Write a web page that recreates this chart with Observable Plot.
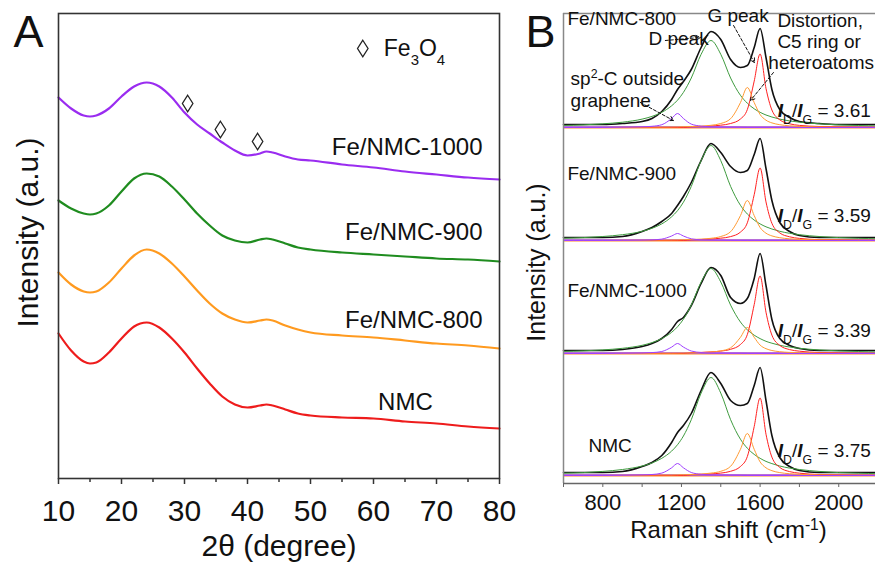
<!DOCTYPE html>
<html><head><meta charset="utf-8">
<script src="https://cdn.jsdelivr.net/npm/d3@7"></script>
<script src="https://cdn.jsdelivr.net/npm/@observablehq/plot@0.6"></script>
<style>
html,body{margin:0;padding:0;background:#fff;}
#wrap{position:relative;width:875px;height:564px;overflow:hidden;}
#a{position:absolute;left:0;top:0;}
#b{position:absolute;left:520px;top:0;}
svg{font-family:"Liberation Sans",Arial,sans-serif;}
</style></head><body><div id="wrap"><div id="a"></div><div id="b"></div></div>
<script>
// ---------- Panel A: XRD ----------
const twoTheta = [10,12,14,15,16,18,20,22,24,26,28,30,32,34,36,38,40,42,43,44,46,48,50,55,60,65,70,75,80];
const xrdNMC    = [145,128,117,115,116,126,140,152,156,151,140,126,110,95,82,74,71,73,74,73,69,65,63,61,60,57,55,52,50];
const xrd800    = [206,194,187,186,187,196,210,223,229,225,215,202,188,175,165,159,156,158,159,158,153,149,146,143,141,138,135,133,130];
const xrd900    = [278,270,265,264,265,273,287,300,305,302,292,279,265,253,243,238,236,239,240,239,235,231,229,226,224,222,220,219,217];
const xrd1000   = [381,370,363,362,363,370,382,392,396,392,381,366,354,345,336,328,323,325,327,326,322,319,318,314,311,307,304,301,299];
const xrdNames  = ["NMC","Fe/NMC-800","Fe/NMC-900","Fe/NMC-1000"];
const xrdColors = ["#ee1c1c","#ff9a1f","#1f8c1f","#9a2cf0"];
const labelTheta = [69.4, 77.3, 77.3, 77.3];
const labelInt   = [76, 158, 246, 331];
const fe3o4Theta = [30.5, 35.7, 41.6];
const fe3o4Int   = [375, 349, 337];
const legendTheta = [58.3];
const legendInt   = [430];
const ticksA = [10,20,30,40,50,60,70,80];
const minorA = [15,25,35,45,55,65,75];
const yTitleA = {x: 5.24, y: 246};

const seriesA = [xrdNMC, xrd800, xrd900, xrd1000];
const rowsA = seriesA.flatMap((s, i) => s.map((v, j) => ({x: twoTheta[j], y: v, name: xrdNames[i]})));

const diamond = {
  draw(ctx, size) {
    const s = Math.sqrt(size / Math.PI);
    const w = s * 1.05, h = s * 1.65;
    ctx.moveTo(0, -h); ctx.lineTo(w, 0); ctx.lineTo(0, h); ctx.lineTo(-w, 0); ctx.closePath();
  }
};

const plotA = Plot.plot({
  width: 520, height: 564,
  marginLeft: 58, marginRight: 21, marginTop: 13, marginBottom: 86,
  x: {domain: [10, 80]},
  y: {domain: [0, 465], axis: null},
  color: {domain: xrdNames, range: xrdColors},
  style: {fontFamily: "Liberation Sans, Arial, sans-serif", fontSize: "30px", color: "#111", background: "#fff"},
  marks: [
    Plot.line(rowsA, {x: "x", y: "y", z: "name", stroke: "name", strokeWidth: 2.2, curve: "monotone-x"}),
    Plot.frame({stroke: "#333", strokeWidth: 1.6}),
    Plot.axisX({ticks: ticksA, tickSize: 6, tickPadding: 15, label: null, stroke: "#333", strokeWidth: 1.5, fontSize: 30}),
    Plot.axisX({ticks: minorA, tickSize: 4, text: null, label: null, stroke: "#333", strokeWidth: 1.5}),
    Plot.dot(fe3o4Theta.map((t, i) => ({x: t, y: fe3o4Int[i]})), {x: "x", y: "y", symbol: diamond, r: 5, stroke: "#222", strokeWidth: 1.3, fill: "white"}),
    Plot.dot(legendTheta.map((t, i) => ({x: t, y: legendInt[i]})), {x: "x", y: "y", symbol: diamond, r: 5, stroke: "#222", strokeWidth: 1.3, fill: "white"}),
    Plot.text(["Fe_{3}O_{4}"], {x: legendTheta[0], y: legendInt[0], dx: 21, textAnchor: "start", fontSize: 23, fill: "#111"}),
    Plot.text(xrdNames.map((n, i) => ({n, x: labelTheta[i], y: labelInt[i]})), {x: "x", y: "y", text: "n", textAnchor: "end", fontSize: 24, fill: "#111"}),
    Plot.text(["2θ (degree)"], {frameAnchor: "bottom", dy: 77, fontSize: 30, fill: "#111"}),
    Plot.text(["Intensity (a.u.)"], {x: yTitleA.x, y: yTitleA.y, rotate: -90, fontSize: 30, fill: "#111"}),
    Plot.text(["A"], {frameAnchor: "top-left", dx: -45, dy: 2, fontSize: 45, fill: "#111"})
  ]
});

// ---------- Panel B: Raman ----------
const ramanShift = [600,700,800,900,1000,1050,1100,1150,1180,1210,1250,1300,1350,1400,1450,1500,1535,1570,1600,1630,1660,1700,1750,1800,1900,2000,2100,2200];
// Fe/NMC-800
const black800  = [3,3,3,4,6,9,16,28,38,46,58,80,96,88,68,60,62,80,99,70,38,18,10,6,4,3,3,3];
const green800  = [2.0,2.6,3.7,5.3,8.4,11.1,15.2,21.7,27.3,35.1,49.5,73.2,87,73.2,49.5,32.2,24.3,18.7,15.2,12.5,10.5,8.4,6.6,5.3,3.7,2.6,2.0,1.6];
const red800    = [0,0,0,0,0,0,0,0,0,0,0.7,1.0,1.5,2.3,4.0,8.5,17.9,46.4,73.5,39.1,17.5,7.7,3.7,2.1,1.0,0.6,0.3,0.2];
const orange800 = [0,0,0,0.2,0.3,0.4,0.4,0.5,0.6,0.8,1.0,1.4,2.2,4.0,8.8,24.9,40,24.9,13.0,7.3,4.6,2.8,1.7,1.1,0.6,0.4,0.2,0.2];
const purple800 = [0,0,0,0.3,0.7,1.2,2.8,9.0,14,9.0,3.4,1.4,0.7,0.4,0.3,0.2,0,0,0,0,0,0,0,0,0,0,0,0];
// Fe/NMC-900
const black900  = [3,3,3,4,9,13,19,27,35,44,58,80,97,88,74,68,70,86,102,72,40,18,9,5,3,3,3,3];
const green900  = [2.2,2.9,4.0,5.8,9.2,12.2,16.6,23.7,29.8,38.3,54.1,79.9,95,79.9,54.1,35.2,26.5,20.4,16.6,13.7,11.5,9.2,7.2,5.8,4.0,2.9,2.2,1.7];
const red900    = [0,0,0,0,0,0,0,0,0,0,0.7,1.0,1.5,2.3,3.9,8.4,17.7,45.8,72.5,38.6,17.2,7.6,3.7,2.1,0.9,0.6,0.3,0.2];
const orange900 = [0,0,0,0.2,0.3,0.4,0.4,0.5,0.6,0.8,1.0,1.4,2.2,4.0,8.8,24.9,40,24.9,13.0,7.3,4.6,2.8,1.7,1.1,0.6,0.4,0.2,0.2];
const purple900 = [0,0,0,0.1,0.3,0.6,1.4,4.5,7,4.5,1.7,0.7,0.4,0.2,0,0,0,0,0,0,0,0,0,0,0,0,0,0];
// Fe/NMC-1000
const black1000  = [3,3,3,4,7,10,15,24,32,36,48,70,86,78,56,50,55,75,100,68,34,15,8,5,3,3,3,3];
const green1000  = [2.0,2.6,3.6,5.2,8.2,10.9,14.9,21.2,26.7,34.3,48.4,71.5,85,71.5,48.4,31.5,23.7,18.3,14.9,12.2,10.3,8.2,6.5,5.2,3.6,2.6,2.0,1.5];
const red1000    = [0,0,0,0,0,0,0,0,0,0,0.8,1.1,1.6,2.4,4.2,9.0,18.9,48.9,77.5,41.3,18.4,8.1,3.9,2.3,1.0,0.6,0.3,0.2];
const orange1000 = [0,0,0,0.1,0.2,0.2,0.3,0.3,0.4,0.5,0.6,0.9,1.5,2.6,5.7,16.2,26,16.2,8.4,4.8,3.0,1.8,1.1,0.7,0.4,0.2,0.2,0.1];
const purple1000 = [0,0,0,0.2,0.5,0.9,2.0,6.4,10,6.4,2.5,1.0,0.5,0.3,0.2,0.2,0,0,0,0,0,0,0,0,0,0,0,0];
// NMC
const blackNMC  = [3,3,3,4,9,13,20,33,43,50,62,85,103,92,75,70,72,90,108,75,40,18,9,5,3,3,3,3];
const greenNMC  = [2.3,2.9,4.1,6.0,9.5,12.5,17.2,24.4,30.8,39.5,55.8,82.4,98,82.4,55.8,36.3,27.3,21.1,17.2,14.1,11.9,9.5,7.4,6.0,4.1,2.9,2.3,1.8];
const redNMC    = [0,0,0,0,0,0,0,0,0,0,0.8,1.1,1.6,2.4,4.2,9.0,18.9,48.9,77.5,41.3,18.4,8.1,3.9,2.3,1.0,0.6,0.3,0.2];
const orangeNMC = [0,0,0,0.2,0.3,0.4,0.5,0.5,0.7,0.8,1.0,1.5,2.4,4.2,9.2,26.2,42,26.2,13.6,7.7,4.8,2.9,1.8,1.2,0.6,0.4,0.3,0.2];
const purpleNMC = [0,0,0,0.2,0.6,1.0,2.4,7.7,12,7.7,3.0,1.2,0.6,0.4,0.3,0.2,0,0,0,0,0,0,0,0,0,0,0,0];

const ramanSamples = ["Fe/NMC-800","Fe/NMC-900","Fe/NMC-1000","NMC"];
const stackOffset  = [356, 243, 130, 8];
const idigRatio    = ["3.61","3.59","3.39","3.75"];
const componentNames  = ["spectrum","D","G","distortion","sp2"];
const componentColors = ["#111111","#3f9b3f","#ff2020","#ff9a33","#a040ff"];
const ramanSeries = [
  [black800, green800, red800, orange800, purple800],
  [black900, green900, red900, orange900, purple900],
  [black1000, green1000, red1000, orange1000, purple1000],
  [blackNMC, greenNMC, redNMC, orangeNMC, purpleNMC]
];
const ticksB = [800,1200,1600,2000];
const minorB = [600,1000,1400,1800];
const yTitleB = {x: 463, y: 221};

const rowsB = [];
ramanSeries.forEach((comps, i) => comps.forEach((arr, c) => arr.forEach((v, j) =>
  rowsB.push({w: ramanShift[j], v: stackOffset[i] + v, key: ramanSamples[i] + "|" + componentNames[c], comp: componentNames[c]}))));

// annotation texts (position in data units of panel B)
const notesB = [
  {t: "Fe/NMC-800", w: 620, v: 465},
  {t: "G peak", w: 1332, v: 468},
  {t: "D peak", w: 1032, v: 445},
  {t: "Distortion,", w: 1688, v: 463},
  {t: "C5 ring or", w: 1688, v: 442},
  {t: "heteroatoms", w: 1642, v: 421},
  {t: "sp^{2}-C outside", w: 636, v: 405},
  {t: "graphene", w: 636, v: 383},
  {t: "Fe/NMC-900", w: 620, v: 310},
  {t: "Fe/NMC-1000", w: 620, v: 193},
  {t: "NMC", w: 727, v: 38}
];
const ratioW = [1690, 1690, 1690, 1690];
const ratioV = [373, 268, 153, 33];
const arrowsB = [
  {w1: 991, v1: 381, w2: 1159, v2: 363},
  {w1: 1118, v1: 443, w2: 1296, v2: 446},
  {w1: 1465, v1: 458, w2: 1571, v2: 421},
  {w1: 1668, v1: 411, w2: 1551, v2: 383}
];

const plotB = Plot.plot({
  width: 355, height: 564,
  marginLeft: 43, marginRight: 0, marginTop: 13, marginBottom: 81,
  x: {domain: [600, 2187]},
  y: {domain: [0, 470], axis: null},
  color: {domain: componentNames, range: componentColors},
  style: {fontFamily: "Liberation Sans, Arial, sans-serif", fontSize: "22px", color: "#111", background: "#fff"},
  marks: [
    Plot.ruleY(stackOffset, {stroke: "#ff8a2a", strokeWidth: 2}),
    Plot.ruleY(stackOffset, {stroke: "#a050f0", strokeWidth: 1.5, dy: -0.5}),
    Plot.line(rowsB.filter(d => d.comp === "spectrum"), {x: "w", y: "v", z: "key", stroke: "comp", strokeWidth: 1.6, curve: "monotone-x"}),
    Plot.line(rowsB.filter(d => d.comp !== "spectrum"), {x: "w", y: "v", z: "key", stroke: "comp", strokeWidth: 1, curve: "monotone-x"}),
    Plot.ruleX([600], {stroke: "#888", strokeWidth: 1.5}),
    Plot.ruleY([470], {stroke: "#888", strokeWidth: 1.5}),
    Plot.ruleY([0], {stroke: "#666", strokeWidth: 1.5}),
    Plot.axisX({ticks: ticksB, tickSize: 4, tickPadding: 7, tickFormat: d => String(d), label: null, stroke: "#666", fontSize: 22}),
    Plot.axisX({ticks: minorB, tickSize: 4, text: null, label: null, stroke: "#666"}),
    Plot.arrow(arrowsB, {x1: "w1", y1: "v1", x2: "w2", y2: "v2", stroke: "#111", strokeWidth: 1, strokeDasharray: "3,2", headLength: 7, bend: false}),
    Plot.text(notesB, {x: "w", y: "v", text: "t", textAnchor: "start", fontSize: 19, fill: "#111"}),
    Plot.text(idigRatio.map((r, i) => ({t: "*I*_{D}/*I*_{G} = " + r, w: ratioW[i], v: ratioV[i]})), {x: "w", y: "v", text: "t", textAnchor: "start", fontSize: 19, fill: "#111"}),
    Plot.text(["Raman shift (cm^{-1})"], {frameAnchor: "bottom", dy: 54, dx: 9, fontSize: 24, fill: "#111"}),
    Plot.text(["Intensity (a.u.)"], {x: yTitleB.x, y: yTitleB.y, rotate: -90, fontSize: 25, fill: "#111"}),
    Plot.text(["B"], {frameAnchor: "top-left", dx: -38, dy: 2, fontSize: 45, fill: "#111"})
  ]
});

function richify(svg) {
  d3.select(svg).selectAll("text").each(function() {
    if (this.querySelector("tspan")) return;
    const s = this.textContent;
    if (!/[_^*]/.test(s)) return;
    const parts = s.split(/(\*[^*]+\*|_\{[^}]*\}|\^\{[^}]*\})/).filter(p => p);
    this.textContent = "";
    for (const p of parts) {
      const t = d3.select(this).append("tspan");
      if (p[0] === "*") t.text(p.slice(1, -1)).attr("font-weight", "bold").attr("font-style", "italic");
      else if (p[0] === "_") t.text(p.slice(2, -1)).attr("baseline-shift", "sub").attr("font-size", "65%");
      else if (p[0] === "^") t.text(p.slice(2, -1)).attr("baseline-shift", "super").attr("font-size", "65%");
      else t.text(p);
    }
  });
}
richify(plotA); richify(plotB);
document.getElementById("a").appendChild(plotA);
document.getElementById("b").appendChild(plotB);
</script></body></html>
